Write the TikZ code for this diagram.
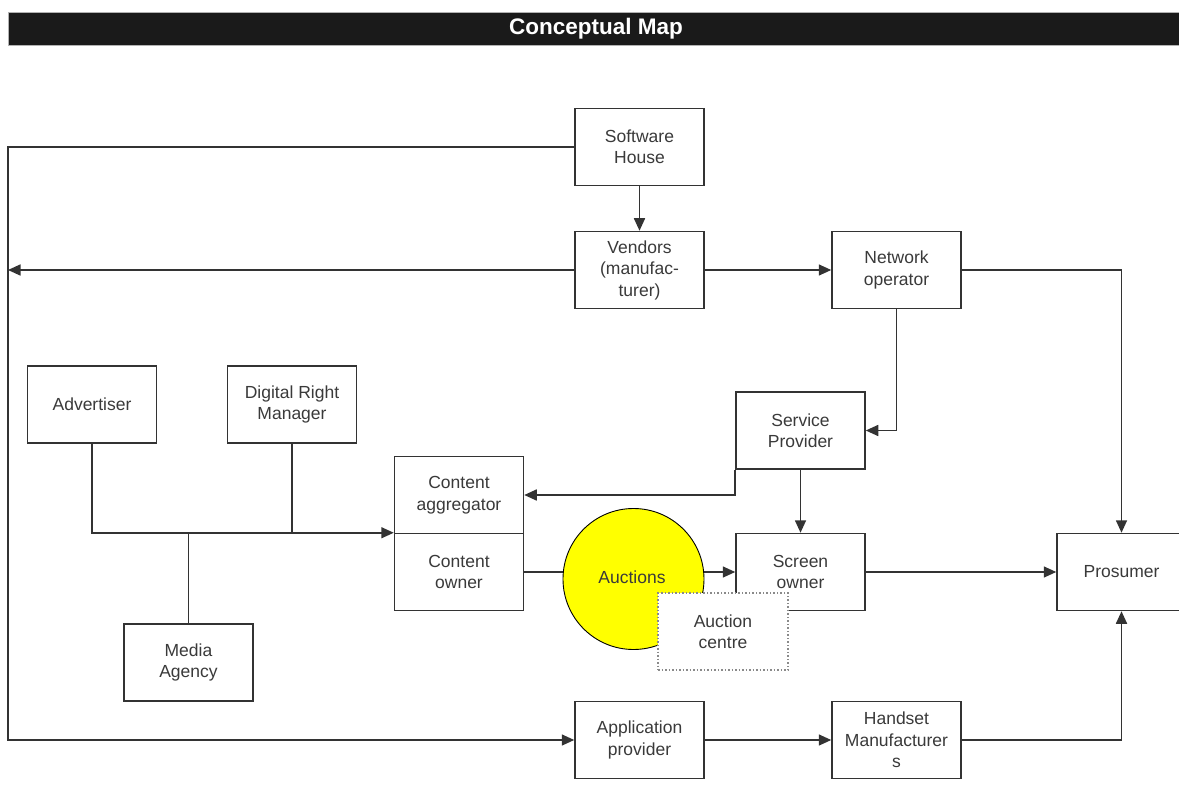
\documentclass[tikz,border=0pt]{standalone}
\usepackage{fontspec}
\setmainfont{Liberation Sans}
\usetikzlibrary{arrows.meta,calc}
\definecolor{linec}{HTML}{333333}
\definecolor{textc}{HTML}{3A3A3A}
\definecolor{barc}{HTML}{1A1A1A}
\definecolor{dotc}{HTML}{8A8A8A}
\definecolor{auccol}{HTML}{FFFF00}
\tikzset{
  box/.style={draw=linec, line width=1.5pt, fill=white, minimum width=129pt, minimum height=77pt,
    align=center, inner sep=0pt, text=textc, font=\fontsize{17.5}{21.5}\selectfont},
  conn/.style={draw=linec, line width=1.6pt},
  arr/.style={conn, -{Triangle[length=12.5pt,width=11pt]}},
}
\begin{document}
\begin{tikzpicture}[x=1pt,y=-1pt]
\useasboundingbox (0,0) rectangle (1179,805);
\clip (0,0) rectangle (1179,805);
\fill[white] (0,0) rectangle (1179,805);
% title bar
\node[fill=barc, draw=gray!60, line width=0.6pt, minimum width=1176pt, minimum height=33pt, inner sep=0pt,
  text=white, font=\bfseries\fontsize{22.5}{25}\selectfont] (title) at (596,28.5) {Conceptual Map};
% boxes
\node[box] (sh)  at (639.5,147)   {Software\\House};
\node[box] (ven) at (639.5,270)   {Vendors\\(manufac-\\turer)};
\node[box] (no)  at (896.5,270)   {Network\\operator};
\node[box] (adv) at (92,404.5)    {Advertiser};
\node[box] (drm) at (292,404.5)   {Digital Right\\Manager};
\node[box] (sp)  at (800.5,430.5) {Service\\Provider};
\node[box] (ca)  at (459,495)     {Content\\aggregator};
\node[box] (co)  at (459,572)     {Content\\owner};
\node[box] (so)  at (800.5,572)   {Screen\\owner};
\node[box] (pro) at (1121.5,572)  {Prosumer};
\node[box] (ma)  at (188.5,662.5) {Media\\Agency};
\node[box] (ap)  at (639.5,740)   {Application\\provider};
\node[box] (hm)  at (896.5,740)   {Handset\\Manufacturer\\s};
% left frame line
\coordinate (lt) at (8,147);
\draw[arr] (sh.west) -- (lt) |- (ap.west);
\draw[arr] (ven.west) -- (ven.west -| lt);
\draw[arr] (sh.south) -- (ven.north);
\draw[arr] (ven.east) -- (no.west);
\draw[arr] (no.east) -| (pro.north);
\draw[arr] (no.south) |- (sp.east);
\draw[arr] (sp.south west) |- (ca.east);
\draw[arr] (sp.south) -- (so.north);
\draw[arr] (so.east) -- (pro.west);
\draw[arr] (ap.east) -- (hm.west);
\draw[arr] (hm.east) -| (pro.south);
% advertiser / DRM / media agency junction
\coordinate (jn) at (co.north west);
\draw[arr] (adv.south) |- (jn);
\draw[conn] (drm.south) -- (drm.south |- jn);
\draw[conn] (ma.north) -- (ma.north |- jn);
% content owner -> auctions -> screen owner
\draw[arr] (co.east) -- (so.west);
\node[circle, draw=black, line width=0.9pt, fill=auccol, minimum size=141pt, inner sep=0pt] (auc) at (633.5,579) {};
\node[text=textc, font=\fontsize{17.5}{21.5}\selectfont] (auct) at (632,577) {Auctions};
\node[box, draw=dotc, dotted, line width=1.5pt, minimum width=130pt] (ac) at (723,631.5) {Auction\\centre};
\end{tikzpicture}
\end{document}
